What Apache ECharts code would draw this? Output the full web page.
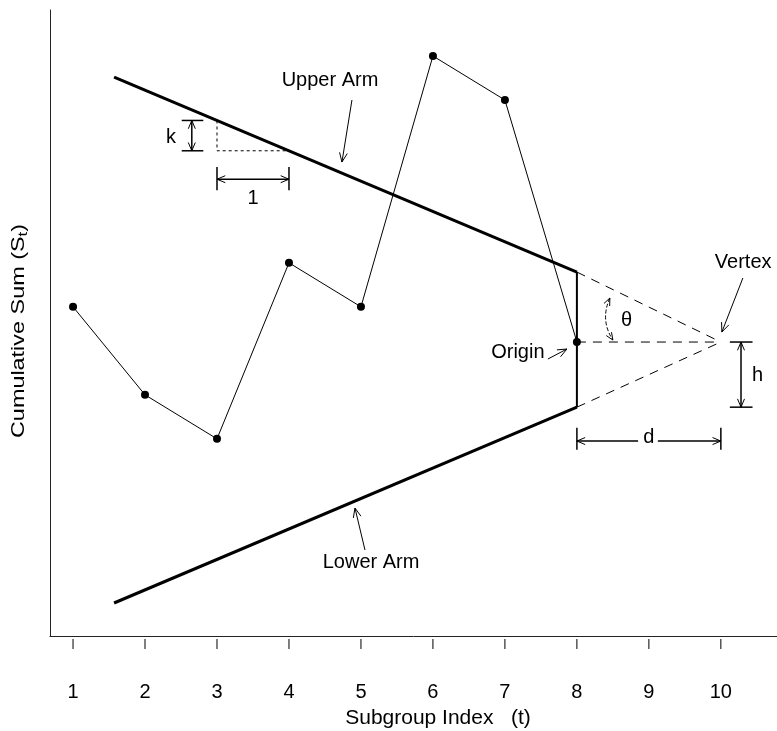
<!DOCTYPE html>
<html><head><meta charset="utf-8">
<script src="https://cdn.jsdelivr.net/npm/echarts@6/dist/echarts.min.js"></script>
<style>html,body{margin:0;padding:0;background:#fff}#c{width:777px;height:731px}</style>
</head><body><div id="c"></div>
<script>
// ---- data ----
const subgroups = [1, 2, 3, 4, 5, 6, 7, 8];
const cusum = [0.8, -1.2, -2.2, 1.8, 0.8, 6.5, 5.5, 0];
const xTicks = [1, 2, 3, 4, 5, 6, 7, 8, 9, 10];
const xTickLabels = ['1', '2', '3', '4', '5', '6', '7', '8', '9', '10'];
const upperArm = [[1.57, 6.02], [8, 1.59]];
const lowerArm = [[1.57, -5.93], [8, -1.48]];
const maskEdge = [[8, 1.59], [8, -1.48]];
const vertex = [10, 0];
const originPt = [8, 0];
const kStep = [[3, 5.035], [3, 4.346], [4, 4.346]];
const xName = 'Subgroup Index   (t)';
const yNameText = 'Cumulative Sum (S';
const yNameSub = 't';

const annotationLabels = ['Upper Arm', 'Lower Arm', 'Origin', 'Vertex', 'k', '1', '\u03b8', 'h', 'd'];
const annotationPos = [[4.57, 5.95], [5.14, -5.0], [7.18, -0.23], [10.31, 1.8], [2.36, 4.64], [3.5, 3.27], [8.69, 0.5], [10.51, -0.75], [9.0, -2.16]];
// pointer arrows: tail x, tail y, tip x, tip y
const pointerArrows = [
  [4.875, 5.5, 4.736, 4.09],
  [5.056, -4.727, 4.917, -3.773],
  [7.597, -0.386, 7.861, -0.159],
  [10.306, 1.455, 10.014, 0.227]
];
// dimension brackets
const brackets = [
  [2.65, 5.035, 2.65, 4.346, 'v', 2.51, 2.81],
  [3, 3.70, 4, 3.70, 'h', 3.98, 3.45],
  [10.28, 0, 10.28, -1.48, 'v', 10.125, 10.44],
  [8, -2.25, 10, -2.25, 'h', -1.95, -2.45, 8.85, 9.125]
];
const thetaArc = [[8.458, 1.0], [8.32, 0.5], [8.5, 0.045]];

const X_MIN = 0.68, X_MAX = 10.78, Y_MIN = -6.68, Y_MAX = 7.545;
const FONT = '"Liberation Sans", Arial, Helvetica, sans-serif';
const INK = '#000';

function head(tip, from, len) {
  const a = Math.atan2(from[1] - tip[1], from[0] - tip[0]);
  const s = 0.4;
  return [
    [tip[0] + len * Math.cos(a + s), tip[1] + len * Math.sin(a + s)],
    tip,
    [tip[0] + len * Math.cos(a - s), tip[1] + len * Math.sin(a - s)]
  ];
}
function pl(points, w) {
  return { type: 'polyline', shape: { points: points }, style: { stroke: INK, lineWidth: w || 1, fill: null } };
}
function txt(x, y, t, size) {
  return { type: 'text', x: x, y: y, style: { text: t, fill: INK, font: (size || 20) + 'px ' + FONT, align: 'center', verticalAlign: 'middle' } };
}

const chart = echarts.init(document.getElementById('c'), null, { renderer: 'canvas' });
chart.setOption({
  animation: false,
  backgroundColor: '#fff',
  grid: { left: 50, right: 0, top: 10, bottom: 95, containLabel: false },
  xAxis: {
    type: 'value', min: X_MIN, max: X_MAX,
    axisLine: { show: true, onZero: false, lineStyle: { color: '#222', width: 1 } },
    axisTick: { show: false }, axisLabel: { show: false }, splitLine: { show: false }
  },
  yAxis: {
    type: 'value', min: Y_MIN, max: Y_MAX,
    axisLine: { show: true, onZero: false, lineStyle: { color: '#222', width: 1 } },
    axisTick: { show: false }, axisLabel: { show: false }, splitLine: { show: false }
  },
  graphic: [
    txt(438, 718, xName, 21),
    {
      type: 'text', x: 19, y: 331, rotation: Math.PI / 2, scaleX: 1.3,
      style: {
        text: '{a|' + yNameText + '}{b|' + yNameSub + '}{a|)}',
        fill: INK, align: 'center', verticalAlign: 'middle',
        rich: {
          a: { fontSize: 18, fontFamily: FONT, fill: INK },
          b: { fontSize: 13, fontFamily: FONT, fill: INK, padding: [9, 0, 0, 0] }
        }
      }
    }
  ],
  series: [
    {
      name: 'CUSUM', type: 'line', data: subgroups.map((t, i) => [t, cusum[i]]),
      symbol: 'circle', symbolSize: 8, itemStyle: { color: INK },
      lineStyle: { color: INK, width: 1 }, z: 5
    },
    { name: 'Upper Arm', type: 'line', data: upperArm, symbol: 'none', lineStyle: { color: INK, width: 3 } },
    { name: 'Lower Arm', type: 'line', data: lowerArm, symbol: 'none', lineStyle: { color: INK, width: 3 } },
    { name: 'Edge', type: 'line', data: maskEdge, symbol: 'none', lineStyle: { color: INK, width: 2 } },
    { name: 'ToVertexU', type: 'line', data: [upperArm[1], vertex], symbol: 'none', lineStyle: { color: INK, width: 1, type: [9, 7] } },
    { name: 'ToVertexO', type: 'line', data: [originPt, vertex], symbol: 'none', lineStyle: { color: INK, width: 1, type: [9, 7] } },
    { name: 'ToVertexL', type: 'line', data: [lowerArm[1], vertex], symbol: 'none', lineStyle: { color: INK, width: 1, type: [9, 7] } },
    { name: 'kStep', type: 'line', data: kStep, symbol: 'none', lineStyle: { color: INK, width: 1, type: [3, 3] } },
    {
      name: 'ticks', type: 'custom', data: xTicks.map(t => [t, Y_MIN]),
      renderItem: function (params, api) {
        const p = api.coord([api.value(0), Y_MIN]);
        return { type: 'group', children: [
          pl([[p[0], p[1] + 3], [p[0], p[1] + 13]], 1),
          txt(p[0], p[1] + 56, xTickLabels[params.dataIndex], 20)
        ] };
      }
    },
    {
      name: 'labels', type: 'custom', data: annotationPos,
      renderItem: function (params, api) {
        const p = api.coord([api.value(0), api.value(1)]);
        return txt(p[0], p[1], annotationLabels[params.dataIndex], 20);
      }
    },
    {
      name: 'arrows', type: 'custom', data: pointerArrows,
      renderItem: function (params, api) {
        const a = api.coord([api.value(0), api.value(1)]);
        const b = api.coord([api.value(2), api.value(3)]);
        return { type: 'group', children: [pl([a, b], 1), pl(head(b, a, 10), 1)] };
      }
    },
    {
      name: 'brackets', type: 'custom', data: brackets.map(b => [b[0], b[1]]),
      renderItem: function (params, api) {
        const b = brackets[params.dataIndex];
        const p1 = api.coord([b[0], b[1]]);
        const p2 = api.coord([b[2], b[3]]);
        const ch = [];
        if (b[4] === 'v') {
          const l = api.coord([b[5], b[1]])[0], r = api.coord([b[6], b[1]])[0];
          ch.push(pl([[l, p1[1]], [r, p1[1]]], 1.5));
          ch.push(pl([[l, p2[1]], [r, p2[1]]], 1.5));
        } else {
          const t = api.coord([b[0], b[5]])[1], bo = api.coord([b[0], b[6]])[1];
          ch.push(pl([[p1[0], t], [p1[0], bo]], 1.5));
          ch.push(pl([[p2[0], t], [p2[0], bo]], 1.5));
        }
        if (b.length > 7) {
          const g1 = api.coord([b[7], b[1]]), g2 = api.coord([b[8], b[1]]);
          ch.push(pl([p1, g1], 1.5)); ch.push(pl([g2, p2], 1.5));
        } else {
          ch.push(pl([p1, p2], 1.5));
        }
        ch.push(pl(head(p1, p2, 9), 1));
        ch.push(pl(head(p2, p1, 9), 1));
        return { type: 'group', children: ch };
      }
    },
    {
      name: 'theta', type: 'custom', data: [thetaArc[0]],
      renderItem: function (params, api) {
        const s = api.coord(thetaArc[0]), c = api.coord(thetaArc[1]), e = api.coord(thetaArc[2]);
        return { type: 'group', children: [
          { type: 'bezierCurve', shape: { x1: s[0], y1: s[1], x2: e[0], y2: e[1], cpx1: c[0], cpy1: c[1] },
            style: { stroke: INK, lineWidth: 1, fill: null, lineDash: [4, 2] } },
          pl(head(s, c, 8), 1), pl(head(e, c, 8), 1)
        ] };
      }
    }
  ]
});
</script></body></html>
